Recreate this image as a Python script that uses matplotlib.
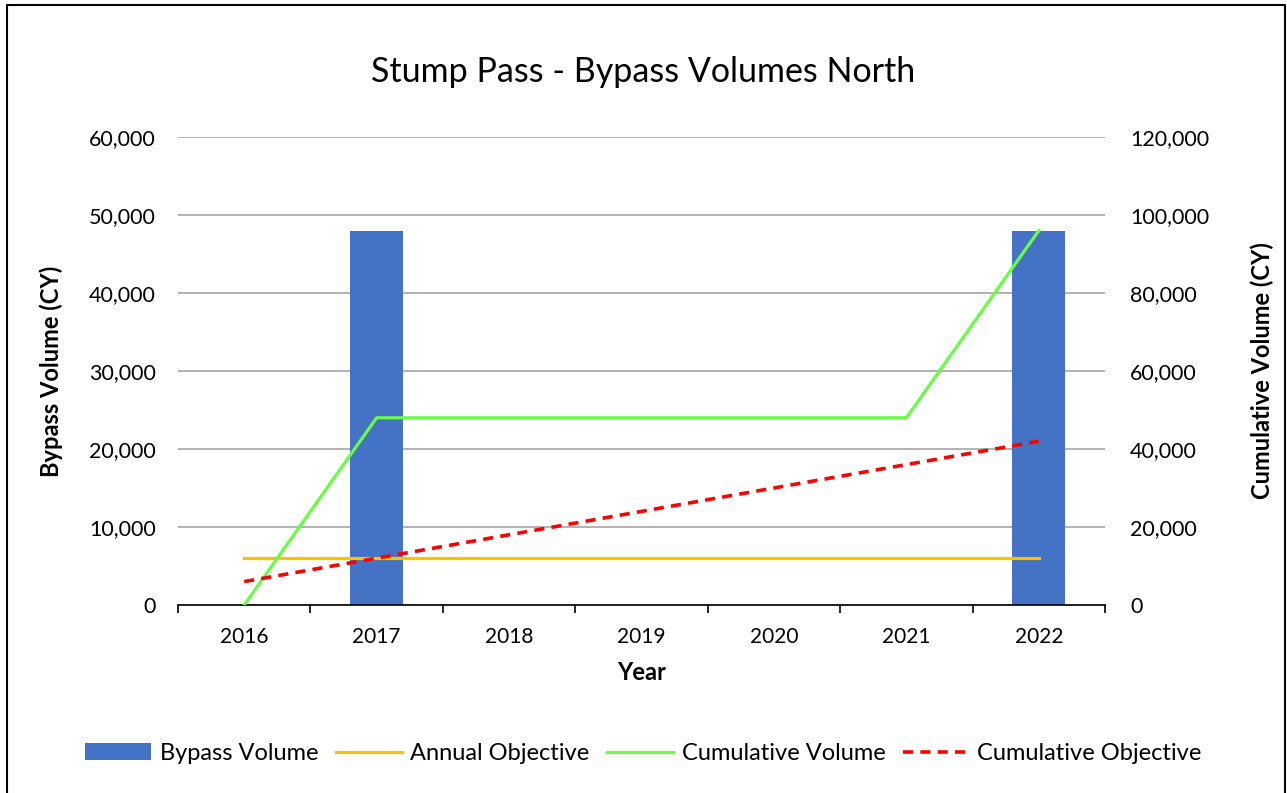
import matplotlib.pyplot as plt
from matplotlib.ticker import FuncFormatter, FixedLocator
from matplotlib.lines import Line2D
from matplotlib.patches import Patch

plt.rcParams['font.family'] = ['Lato', 'DejaVu Sans']

years = ['2016', '2017', '2018', '2019', '2020', '2021', '2022']
bypass_volume = [0, 48000, 0, 0, 0, 0, 48000]
annual_objective = [6000, 6000, 6000, 6000, 6000, 6000, 6000]
cumulative_volume = [0, 48000, 48000, 48000, 48000, 48000, 96000]
cumulative_objective = [6000, 12000, 18000, 24000, 30000, 36000, 42000]

blue = '#4472C4'
orange = '#FFC000'
green = '#66FF44'
red = '#FF0000'

fig = plt.figure(figsize=(12.87, 7.93), dpi=100)
ax = fig.add_axes([0.1383, 0.2371, 0.7203, 0.5901])
ax2 = ax.twinx()

x = list(range(len(years)))
ax.bar(x, bypass_volume, width=0.4, color=blue, zorder=2)
ax.plot(x, annual_objective, color=orange, lw=2.3, zorder=3)
ax2.plot(x, cumulative_volume, color=green, lw=2.3, zorder=3)
ax2.plot(x, cumulative_objective, color=red, lw=2.6, dashes=(2.8, 2.0), zorder=3)

ax.set_xlim(-0.5, len(years) - 0.5)
ax.set_ylim(0, 60000)
ax2.set_ylim(0, 120000)
ax.set_yticks(range(0, 60001, 10000))
ax2.set_yticks(range(0, 120001, 20000))
fmt = FuncFormatter(lambda v, p: f'{int(v):,}')
ax.yaxis.set_major_formatter(fmt)
ax2.yaxis.set_major_formatter(fmt)

ax.set_xticks(x)
ax.set_xticklabels(years)
ax.xaxis.set_minor_locator(FixedLocator([i - 0.5 for i in range(len(years) + 1)]))
ax.tick_params(axis='x', which='major', length=0, pad=16, labelsize=15)
ax.tick_params(axis='x', which='minor', length=6, width=1.2, color='black', direction='out')
ax.tick_params(axis='y', length=0, pad=16, labelsize=15.5)
ax2.tick_params(axis='y', length=0, pad=18, labelsize=15.5)

ax.grid(axis='y', color='#A6A6A6', lw=1.2, zorder=0)
ax.set_axisbelow(True)
for a in (ax, ax2):
    for s in ('top', 'left', 'right', 'bottom'):
        a.spines[s].set_visible(False)
ax.spines['bottom'].set_visible(True)
ax.spines['bottom'].set_color('black')
ax.spines['bottom'].set_linewidth(1.2)

ax.set_xlabel('Year', fontsize=17, fontweight='bold', labelpad=10)
ax.set_ylabel('Bypass Volume (CY)', fontsize=17, fontweight='bold', labelpad=19)
ax2.set_ylabel('Cumulative Volume (CY)', fontsize=17, fontweight='bold', labelpad=30)

fig.suptitle('Stump Pass - Bypass Volumes North', fontsize=24.5, y=0.93)

handles = [
    Patch(facecolor=blue),
    Line2D([0], [0], color=orange, lw=2.3),
    Line2D([0], [0], color=green, lw=2.3),
    Line2D([0], [0], color=red, lw=2.6, dashes=(2.8, 2.0)),
]
labels = ['Bypass Volume', 'Annual Objective', 'Cumulative Volume', 'Cumulative Objective']
fig.legend(handles, labels, loc='center', bbox_to_anchor=(0.5, 0.05), ncol=4,
           frameon=False, fontsize=17, handlelength=2.8, handletextpad=0.35,
           columnspacing=0.75)

# chart border (cropped at the bottom in the original)
xl, xr, yt = 7 / 1287, 1285 / 1287, 1 - 5 / 793
fig.add_artist(Line2D([xl, xl, xr, xr], [0, yt, yt, 0], transform=fig.transFigure,
                      color='black', lw=1.5))

fig.savefig('out.png', dpi=100)
